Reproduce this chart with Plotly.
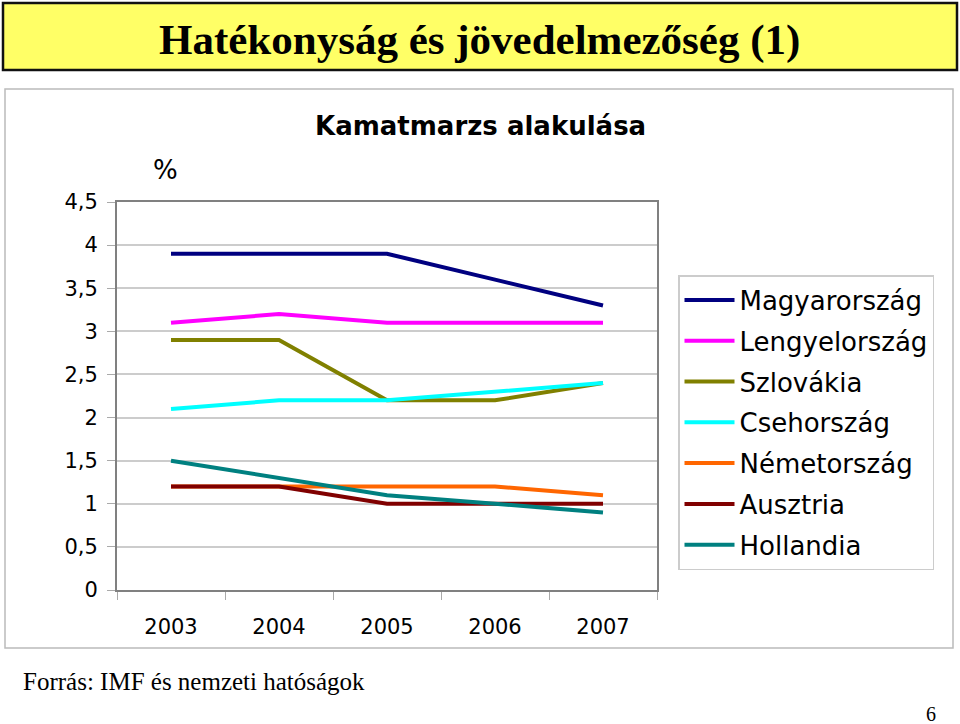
import plotly.graph_objects as go

years = ["2003", "2004", "2005", "2006", "2007"]

magyarorszag = [3.9, 3.9, 3.9, 3.6, 3.3]
lengyelorszag = [3.1, 3.2, 3.1, 3.1, 3.1]
szlovakia = [2.9, 2.9, 2.2, 2.2, 2.4]
csehorszag = [2.1, 2.2, 2.2, 2.3, 2.4]
nemetorszag = [1.2, 1.2, 1.2, 1.2, 1.1]
ausztria = [1.2, 1.2, 1.0, 1.0, 1.0]
hollandia = [1.5, 1.3, 1.1, 1.0, 0.9]

y_ticks = [0, 0.5, 1, 1.5, 2, 2.5, 3, 3.5, 4, 4.5]
y_labels = ["0", "0,5", "1", "1,5", "2", "2,5", "3", "3,5", "4", "4,5"]

series = [
    ("Magyarország", magyarorszag, "#000080"),
    ("Lengyelország", lengyelorszag, "#FF00FF"),
    ("Szlovákia", szlovakia, "#808000"),
    ("Csehország", csehorszag, "#00FFFF"),
    ("Németország", nemetorszag, "#FF6600"),
    ("Ausztria", ausztria, "#800000"),
    ("Hollandia", hollandia, "#008080"),
]

W, H = 960, 724
SANS = "DejaVu Sans"
SERIF = "Liberation Serif"

fig = go.Figure()
for name, vals, col in series:
    fig.add_trace(go.Scatter(x=years, y=vals, name=name, mode="lines", legendgroup=name,
                             line={"color": col, "width": 4}))


# pixel helpers -> paper coords
def px(x):
    return x / W


def py(y):
    return 1 - y / H


shapes = [
    # yellow banner
    dict(type="rect", xref="paper", yref="paper", x0=px(3), x1=px(957), y0=py(70), y1=py(3),
         fillcolor="#FFFF66", line={"color": "#111111", "width": 2.5}, layer="below"),
    # chart frame
    dict(type="rect", xref="paper", yref="paper", x0=px(5), x1=px(953), y0=py(648), y1=py(89),
         fillcolor="rgba(0,0,0,0)", line={"color": "#BBBBBB", "width": 1.5}, layer="below"),
]

annotations = [
    dict(text="<b>Hatékonyság és jövedelmezőség (1)</b>", x=px(479), y=py(40), xref="paper", yref="paper",
         yanchor="middle", showarrow=False, font={"family": SERIF, "size": 43, "color": "black"}),
    dict(text="<b>Kamatmarzs alakulása</b>", x=px(480), y=py(126), xref="paper", yref="paper",
         yanchor="middle", showarrow=False, font={"family": SANS, "size": 26, "color": "black"}),
    dict(text="%", x=px(151), y=py(170), xref="paper", yref="paper",
         yanchor="middle", showarrow=False, font={"family": SANS, "size": 26, "color": "black"}),
    dict(text="Forrás: IMF és nemzeti hatóságok", x=px(21), y=py(681), xref="paper", yref="paper",
         xanchor="left", yanchor="middle", showarrow=False,
         font={"family": SERIF, "size": 25, "color": "black"}),
    dict(text="6", x=px(938), y=py(714), xref="paper", yref="paper",
         yanchor="middle", showarrow=False, font={"family": SERIF, "size": 20, "color": "black"}),
]

fig.update_layout(
    width=W, height=H,
    margin={"l": 0, "r": 0, "t": 0, "b": 0, "autoexpand": False},
    paper_bgcolor="white", plot_bgcolor="white",
    font={"family": SANS, "color": "black"},
    showlegend=True,
    legend={"x": px(678), "y": py(275), "xanchor": "left", "yanchor": "top",
            "bordercolor": "#CCCCCC", "borderwidth": 1.5, "bgcolor": "white",
            "font": {"size": 26, "family": SANS}, "tracegroupgap": 4,
            "itemwidth": 50},
    xaxis={"domain": [px(117), px(657)], "type": "category", "automargin": False,
           "range": [-0.5, len(years) - 0.5],
           "showline": True, "linecolor": "#808080", "linewidth": 2, "mirror": True,
           "ticks": "outside", "tickson": "boundaries", "ticklen": 8, "tickcolor": "#AAAAAA",
           "ticklabelstandoff": 17,
           "showgrid": False, "tickfont": {"size": 21}, "fixedrange": True},
    yaxis={"domain": [py(590), py(202)], "range": [0, 4.5], "automargin": False,
           "tickvals": y_ticks, "ticktext": y_labels,
           "showline": True, "linecolor": "#808080", "linewidth": 2, "mirror": True,
           "ticks": "outside", "ticklen": 8, "tickcolor": "#AAAAAA",
           "ticklabelstandoff": 5,
           "showgrid": True, "gridcolor": "#CCCCCC", "gridwidth": 1.5,
           "zeroline": False, "tickfont": {"size": 21}, "fixedrange": True},
    shapes=shapes,
    annotations=annotations,
)

# body default margin would shift the figure by 8px
fig.write_html("out.html", config={"displayModeBar": False},
               post_script="document.body.style.margin='0';")
